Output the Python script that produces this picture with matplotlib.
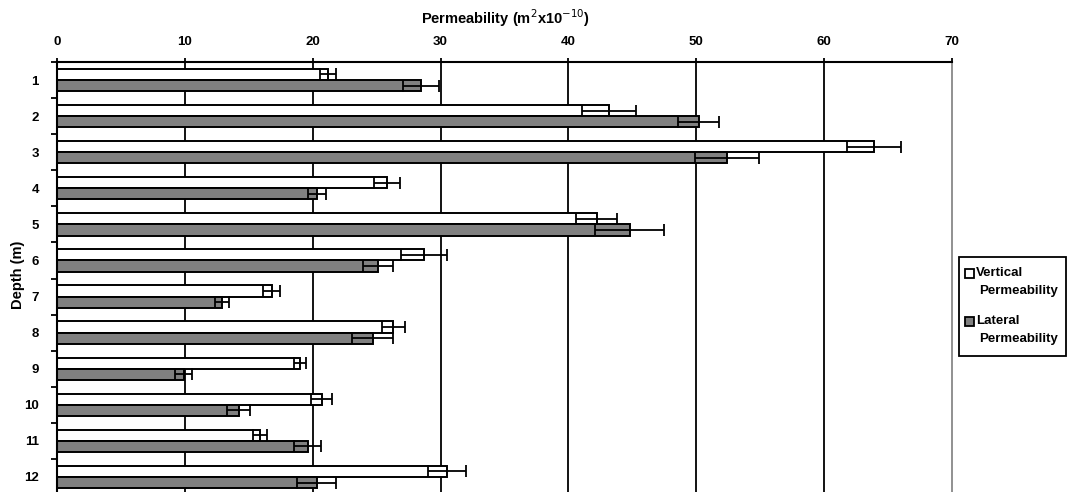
import numpy as np
import matplotlib
matplotlib.use('Agg')
import matplotlib.pyplot as plt
from matplotlib.patches import Rectangle

plt.rcParams['font.family'] = ['Liberation Sans', 'DejaVu Sans']

# depth (m) and permeability (m^2 x 10^-10)
depth = [1, 2, 3, 4, 5, 6, 7, 8, 9, 10, 11, 12]
vertical = [21.2, 43.2, 63.9, 25.8, 42.2, 28.7, 16.8, 26.3, 19.0, 20.7, 15.9, 30.5]
vertical_err = [0.6, 2.1, 2.1, 1.0, 1.6, 1.8, 0.65, 0.9, 0.45, 0.8, 0.55, 1.5]
lateral = [28.5, 50.2, 52.4, 20.3, 44.8, 25.1, 12.9, 24.7, 9.9, 14.2, 19.6, 20.3]
lateral_err = [1.4, 1.6, 2.5, 0.7, 2.7, 1.15, 0.55, 1.6, 0.65, 0.9, 1.05, 1.55]
xticks = [0, 10, 20, 30, 40, 50, 60, 70]

fig = plt.figure(figsize=(10.67, 4.92), dpi=100)
ax = fig.add_axes([57/1067, 1 - 495/492, (952 - 57)/1067, 433/492])

y = np.arange(len(depth))
h = 0.31
ebar = dict(ecolor='black', elinewidth=1.3, capsize=4, capthick=1.3)

# grid lines behind bars
for xv in xticks[1:-1]:
    ax.axvline(xv, color='black', lw=1.3, zorder=0)

ax.barh(y - h / 2, vertical, height=h, color='white', edgecolor='black',
        linewidth=1.4, xerr=vertical_err, error_kw=ebar, zorder=2)
ax.barh(y + h / 2, lateral, height=h, color='#808080', edgecolor='black',
        linewidth=1.4, xerr=lateral_err, error_kw=ebar, zorder=2)

ax.set_xlim(0, 70)
ax.set_ylim(len(depth) - 0.5, -0.5)
ax.xaxis.tick_top()
ax.xaxis.set_label_position('top')
ax.set_xticks(xticks)
ax.set_xticklabels([str(v) for v in xticks], fontsize=9.5, fontweight='bold')
ax.tick_params(axis='x', direction='out', length=3, width=1.3, pad=7)

ax.set_yticks(y)
ax.set_yticklabels([str(d) for d in depth], fontsize=9.5, fontweight='bold')
ax.tick_params(axis='y', which='major', length=0, pad=13)
ax.set_yticks(np.arange(len(depth) + 1) - 0.5, minor=True)
ax.tick_params(axis='y', which='minor', direction='out', length=4, width=1.3)

for s in ['top', 'left']:
    ax.spines[s].set_linewidth(1.5)
ax.spines['bottom'].set_visible(False)
ax.spines['right'].set_color('#888888')
ax.spines['right'].set_linewidth(1.3)

fig.text(505/1067, 1 - 18/492, r'Permeability (m$^{2}$x10$^{-10}$)', ha='center', va='center',
         fontsize=10.5, fontweight='bold')
fig.text(18/1067, 1 - 275/492, 'Depth (m)', ha='center', va='center', rotation=90,
         fontsize=10.5, fontweight='bold')

# legend box
W, H = 1067, 492
fig.patches.append(Rectangle((959/W, 1 - 356/H), 107/W, 99/H, transform=fig.transFigure,
                             facecolor='white', edgecolor='black', lw=1.3))
fig.patches.append(Rectangle((965/W, 1 - 278/H), 9/W, 9/H, transform=fig.transFigure,
                             facecolor='white', edgecolor='black', lw=1.3))
fig.patches.append(Rectangle((965/W, 1 - 326/H), 9/W, 9/H, transform=fig.transFigure,
                             facecolor='#808080', edgecolor='black', lw=1.3))
fig.text(976/W, 1 - 273/H, 'Vertical', fontsize=9.5, fontweight='bold', va='center')
fig.text(979/W, 1 - 291/H, 'Permeability', fontsize=9.5, fontweight='bold', va='center')
fig.text(976/W, 1 - 321/H, 'Lateral', fontsize=9.5, fontweight='bold', va='center')
fig.text(979/W, 1 - 339/H, 'Permeability', fontsize=9.5, fontweight='bold', va='center')

fig.savefig('out.png', dpi=100)
